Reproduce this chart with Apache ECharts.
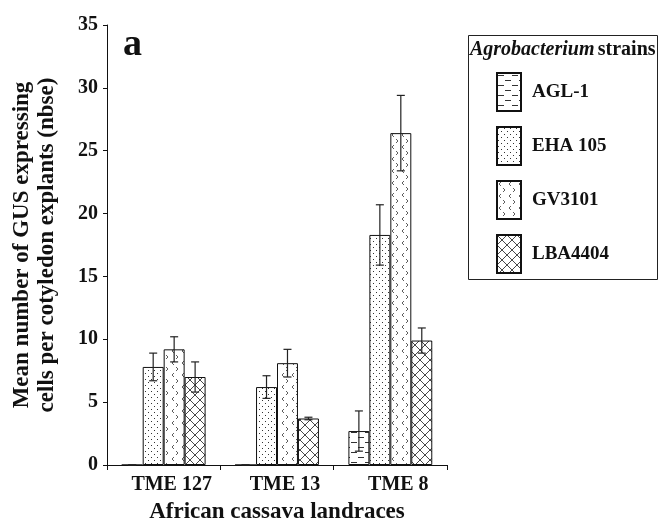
<!DOCTYPE html>
<html><head><meta charset="utf-8">
<script src="https://cdn.jsdelivr.net/npm/echarts@6/dist/echarts.min.js"></script>
<style>html,body{margin:0;padding:0;background:#fff}#c{width:658px;height:531px}</style>
</head><body><div id="c"></div>
<script>
const categories = ['TME 127', 'TME 13', 'TME 8'];
const strains = ['AGL-1', 'EHA 105', 'GV3101', 'LBA4404'];
const aglMean = [0, 0, 2.7];
const aglErr = [0, 0, 1.6];
const ehaMean = [7.8, 6.2, 18.3];
const ehaErr = [1.1, 0.9, 2.4];
const gvMean = [9.2, 8.1, 26.4];
const gvErr = [1.0, 1.1, 3.0];
const lbaMean = [7.0, 3.7, 9.9];
const lbaErr = [1.2, 0.1, 1.0];
const yTicks = [0, 5, 10, 15, 20, 25, 30, 35];

const means = [aglMean, ehaMean, gvMean, lbaMean];
const errs = [aglErr, ehaErr, gvErr, lbaErr];

function tile(w, h, draw) {
  const c = document.createElement('canvas');
  c.width = w; c.height = h;
  const g = c.getContext('2d');
  g.fillStyle = '#fff'; g.fillRect(0, 0, w, h);
  g.strokeStyle = '#333'; g.fillStyle = '#333'; g.lineWidth = 1;
  draw(g);
  return {image: c, repeat: 'repeat'};
}
const patDash = tile(14, 10, g => {
  g.beginPath(); g.moveTo(1, 2.5); g.lineTo(7, 2.5); g.moveTo(8, 7.5); g.lineTo(14, 7.5); g.stroke();
});
const patDot = tile(6, 6, g => {
  g.fillRect(1, 1, 1, 1); g.fillRect(4, 4, 1, 1);
});
const patChev = tile(10, 12, g => {
  g.lineWidth = 0.8;
  g.beginPath();
  g.moveTo(4, 1); g.lineTo(2, 3); g.lineTo(4, 5);
  g.moveTo(6, 7); g.lineTo(8, 9); g.lineTo(6, 11);
  g.stroke();
});
const patCross = tile(10, 10, g => {
  g.lineWidth = 0.9;
  g.beginPath(); g.moveTo(0, 0); g.lineTo(10, 10); g.moveTo(10, 0); g.lineTo(0, 10); g.stroke();
});
const patterns = [patDash, patDot, patChev, patCross];

const GAP = 0.26;
const series = strains.map((s, i) => ({
  name: s, type: 'bar', data: means[i], barGap: 0, barCategoryGap: (GAP * 100) + '%',
  itemStyle: {color: patterns[i], borderColor: '#111', borderWidth: 1},
  emphasis: {disabled: true}
}));
strains.forEach((s, i) => {
  series.push({
    type: 'custom', name: s + ' err', silent: true, z: 5,
    data: categories.map((c, k) => [k, means[i][k], errs[i][k]]),
    renderItem: function (params, api) {
      const k = api.value(0), m = api.value(1), e = api.value(2);
      const band = api.size([1, 0])[0];
      const bw = band * (1 - GAP) / 4;
      const cx = api.coord([k, 0])[0] + (i - 1.5) * bw;
      const yt = api.coord([k, m + e])[1];
      const yb = api.coord([k, Math.max(0, m - e)])[1];
      const cap = 4;
      const st = {stroke: '#222', lineWidth: 1.2};
      return {type: 'group', children: [
        {type: 'line', shape: {x1: cx, y1: yt, x2: cx, y2: yb}, style: st},
        {type: 'line', shape: {x1: cx - cap, y1: yt, x2: cx + cap, y2: yt}, style: st},
        {type: 'line', shape: {x1: cx - cap, y1: yb, x2: cx + cap, y2: yb}, style: st}
      ]};
    }
  });
});

const font = '"Liberation Serif", "Times New Roman", serif';
const chart = echarts.init(document.getElementById('c'), null, {renderer: 'canvas'});
chart.setOption({
  animation: false,
  textStyle: {fontFamily: font},
  grid: {left: 107, right: 211, top: 25, bottom: 66},
  xAxis: {
    type: 'category', data: categories,
    axisLine: {lineStyle: {color: '#111', width: 1}},
    axisTick: {show: true, length: 5, lineStyle: {color: '#111'}},
    axisLabel: {fontFamily: font, fontWeight: 'bold', fontSize: 20, color: '#111', margin: 10,
      padding: [0, 0, 0, 16]},
    name: 'African cassava landraces', nameLocation: 'middle', nameGap: 36,
    nameTextStyle: {fontFamily: font, fontWeight: 'bold', fontSize: 23, color: '#111'}
  },
  yAxis: {
    type: 'value', min: 0, max: 35, interval: 5,
    splitLine: {show: false},
    axisLine: {show: true, lineStyle: {color: '#111', width: 1}},
    axisTick: {show: true, length: 4, lineStyle: {color: '#111'}},
    axisLabel: {fontFamily: font, fontWeight: 'bold', fontSize: 20, color: '#111', margin: 9,
      formatter: v => yTicks.includes(v) ? String(v) : ''},
    name: 'Mean number of GUS expressing\ncells per cotyledon explants (nbse)',
    nameLocation: 'middle', nameGap: 47, nameRotate: 90,
    nameTextStyle: {fontFamily: font, fontWeight: 'bold', fontSize: 23, color: '#111', lineHeight: 25}
  },
  legend: {
    data: strains, orient: 'vertical', left: 496, top: 72, padding: 0,
    icon: 'rect', itemWidth: 24, itemHeight: 38, itemGap: 14,
    textStyle: {fontFamily: font, fontWeight: 'bold', fontSize: 19, color: '#111', padding: [0, 0, 0, 6]},
    selectedMode: false
  },
  graphic: [
    {type: 'rect', left: 466, top: 33, shape: {width: 189, height: 244},
      style: {fill: 'none', stroke: '#222', lineWidth: 1}},
    {type: 'text', left: 470, top: 40, style: {
      text: '{i|Agrobacterium} {b|strains}',
      rich: {
        i: {fontFamily: font, fontStyle: 'italic', fontWeight: 'bold', fontSize: 20, fill: '#111'},
        b: {fontFamily: font, fontWeight: 'bold', fontSize: 20, fill: '#111'}
      }}},
    {type: 'text', left: 123, top: 26, style: {text: 'a', fontFamily: font, fontWeight: 'bold', fontSize: 38, fill: '#111'}}
  ],
  series: series
});
</script></body></html>
